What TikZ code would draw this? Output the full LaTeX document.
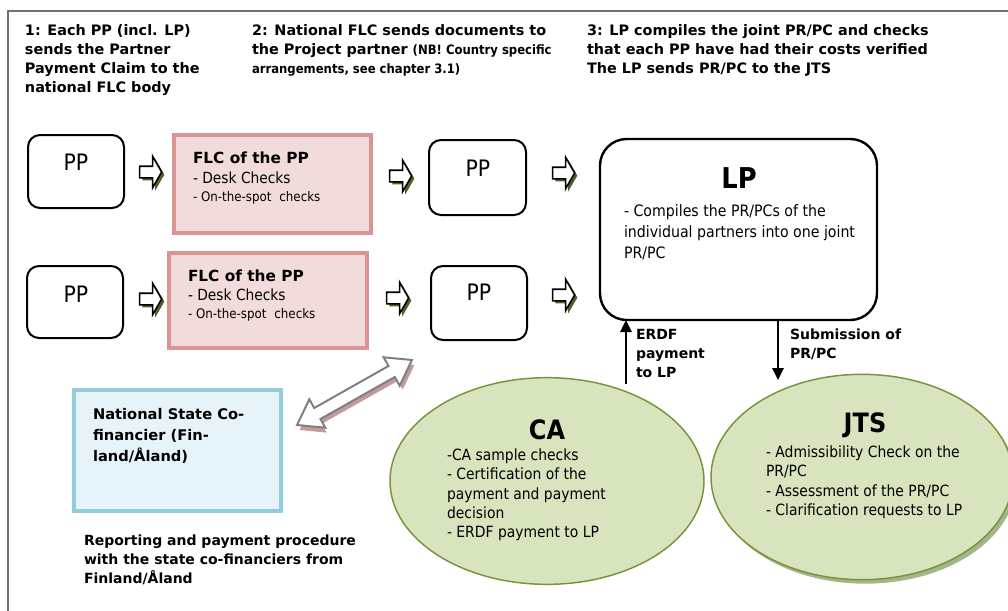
\documentclass[tikz,border=0pt]{standalone}
\usepackage{fontspec}
\setmainfont{DejaVu Sans}
\newfontfamily\condfont{DejaVu Sans Condensed}
\usetikzlibrary{shapes.geometric,shapes.arrows,shadows,fit,arrows.meta}

\definecolor{framegray}{HTML}{707070}
\definecolor{flcborder}{HTML}{D99594}
\definecolor{flcfill}{HTML}{F2DCDB}
\definecolor{stborder}{HTML}{92CDDC}
\definecolor{stfill}{HTML}{E6F3F8}
\definecolor{ellfill}{HTML}{D7E4BD}
\definecolor{ellborder}{HTML}{77933C}
\definecolor{ellshadow}{HTML}{A3B58A}
\definecolor{arrshadow}{HTML}{4F6228}
\definecolor{dblgray}{HTML}{808080}
\definecolor{dblshadow}{HTML}{C49A9A}

\newcommand\nbfont{\condfont\bfseries\fontsize{9.7}{11}\selectfont}

\begin{document}
\begin{tikzpicture}[x=0.75pt,y=-0.75pt,
  every node/.style={inner sep=0pt, outer sep=0pt},
  heading/.style={font=\bfseries\fontsize{10.8}{14.25}\selectfont, align=left, anchor=north west},
  ppbox/.style={draw=black, line width=1.5pt, rounded corners=9pt, fill=white},
  pplabel/.style={font=\condfont\fontsize{17}{20}\selectfont},
  flcbox/.style={draw=flcborder, fill=flcfill, line width=3pt},
  flctitle/.style={font=\bfseries\fontsize{11.5}{14}\selectfont, anchor=base west},
  flcitem/.style={font=\condfont\fontsize{11.5}{14}\selectfont, anchor=base west},
  flcsmall/.style={font=\condfont\fontsize{9.9}{12}\selectfont, anchor=base west},
  lpbox/.style={draw=black, line width=1.8pt, rounded corners=20pt, fill=white},
  bigtitle/.style={font=\condfont\bfseries\fontsize{21.5}{24}\selectfont},
  ovaltitle/.style={font=\condfont\bfseries\fontsize{20}{24}\selectfont},
  bodytext/.style={font=\condfont\fontsize{11.6}{14.4}\selectfont, align=left, anchor=north west},
  oval/.style={ellipse, draw=ellborder, fill=ellfill, line width=1.1pt},
  statebox/.style={draw=stborder, fill=stfill, line width=3pt},
  boldtext/.style={font=\bfseries\fontsize{10.5}{14.25}\selectfont, align=left, anchor=north west},
  flowarrow/.style={single arrow, draw=black, fill=white, line width=1.2pt,
    minimum height=16.5pt, inner xsep=0pt, inner ysep=3.75pt,
    single arrow head extend=7.5pt, single arrow tip angle=120,
    drop shadow={shadow xshift=2pt, shadow yshift=-2pt, fill=arrshadow, opacity=1}},
  dblarrow/.style={double arrow, minimum height=99pt, inner xsep=0pt, inner ysep=4pt,
    double arrow head extend=7.5pt, double arrow tip angle=70, rotate=29.5},
  conn/.style={line width=1.2pt, -{Triangle[length=9pt,width=8.5pt]}},
]
\useasboundingbox (0,0) rectangle (1008,611);

% page frame
\draw[framegray, line width=1.5pt] (8,611) -- (8,11) -- (1008,11);

% step headings
\node[heading] (h1) at (25,24.2) {1: Each PP (incl. LP)\\sends the Partner\\Payment Claim to the\\national FLC body};
\node[heading] (h2) at (252,24.2) {2: National FLC sends documents to\\the Project partner {\nbfont (NB! Country specific}\\{\nbfont arrangements, see chapter 3.1)}};
\node[heading] (h3) at (587,24.2) {3: LP compiles the joint PR/PC and checks\\that each PP have had their costs verified\\The LP sends PR/PC to the JTS};

% project partners, first column
\node[ppbox, fit={(28,135) (124,208)}] (pp11) {};
\node[pplabel] (pp11t) at (76,162) {PP};
\node[ppbox, fit={(27,266) (123,338)}] (pp21) {};
\node[pplabel] (pp21t) at (76,294) {PP};

% first level control
\node[flcbox, fit={(174,135) (371,233)}] (flc1) {};
\node[flctitle] (flc1a) at (193,163) {FLC of the PP};
\node[flcitem] (flc1b) at (193,183) {- Desk Checks};
\node[flcsmall] (flc1c) at (193,201) {- On-the-spot\hspace{0.3em} checks};
\node[flcbox, fit={(169,253) (367,348)}] (flc2) {};
\node[flctitle] (flc2a) at (188,281) {FLC of the PP};
\node[flcitem] (flc2b) at (188,300) {- Desk Checks};
\node[flcsmall] (flc2c) at (188,318) {- On-the-spot\hspace{0.3em} checks};

% project partners, second column
\node[ppbox, fit={(429,140) (526,215)}] (pp12) {};
\node[pplabel] (pp12t) at (478,168) {PP};
\node[ppbox, fit={(431,266) (527,340)}] (pp22) {};
\node[pplabel] (pp22t) at (479,292) {PP};

% flow arrows
\node[flowarrow] (ar11) at (149,172) {};
\node[flowarrow] (ar12) at (399,176) {};
\node[flowarrow] (ar13) at (562,173) {};
\node[flowarrow] (ar21) at (149,299) {};
\node[flowarrow] (ar22) at (396,298) {};
\node[flowarrow] (ar23) at (562,295) {};

% lead partner
\node[lpbox, fit={(600,139) (877,320)}] (lp) {};
\node[bigtitle] (lpt) at (739,178) {LP};
\node[bodytext, font=\condfont\fontsize{11.8}{15.5}\selectfont] (lpb) at (624,205) {- Compiles the PR/PCs of the\\individual partners into one joint\\PR/PC};

% certifying authority and joint technical secretariat
\node[oval, minimum width=235.5pt, minimum height=155pt] (ca) at (547,481) {};
\node[oval, minimum width=226.5pt, minimum height=154pt,
  drop shadow={shadow xshift=2.5pt, shadow yshift=-3pt, fill=ellshadow, opacity=1}] (jts) at (862,477) {};
\node[ovaltitle] (cat) at (547,430) {CA};
\node[ovaltitle] (jtst) at (865,425) {JTS};
\node[bodytext] (cab) at (447,449) {-CA sample checks\\- Certification of the\\payment and payment\\decision\\- ERDF payment to LP};
\node[bodytext] (jtsb) at (766,446) {- Admissibility Check on the\\PR/PC\\- Assessment of the PR/PC\\- Clarification requests to LP};

% payment and submission
\coordinate (erdfbase) at (626,384);
\coordinate (subtip) at (778,380);
\draw[conn] (erdfbase) -- (erdfbase |- lp.south);
\draw[conn] (lp.south -| subtip) -- (subtip);
\node[boldtext] (erdfl) at (636,329.4) {ERDF\\payment\\to LP};
\node[boldtext] (subl) at (790,328.4) {Submission of\\PR/PC};

% national co-financier
\node[statebox, fit={(74,390) (281,511)}] (state) {};
\node[font=\bfseries\fontsize{11}{15.75}\selectfont, align=left, anchor=north west] (statet) at (93,408) {National State Co-\\financier (Fin-\\land/Åland)};
\node[boldtext, font=\bfseries\fontsize{10.5}{14.6}\selectfont] (report) at (84,534.4) {Reporting and payment procedure\\with the state co-financiers from\\Finland/Åland};

% link between co-financier and partners
\node[dblarrow, fill=dblshadow] (linkshadow) at (357,397.5) {};
\node[dblarrow, draw=dblgray, fill=white, line width=1.5pt] (link) at (354.5,392.5) {};
\end{tikzpicture}
\end{document}
